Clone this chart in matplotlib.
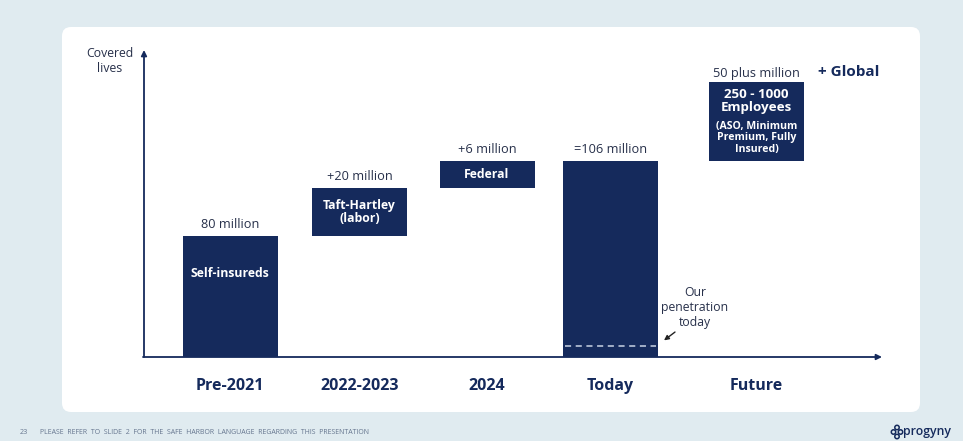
import numpy as np
import matplotlib
matplotlib.use("Agg")
import matplotlib.pyplot as plt
from matplotlib.patches import FancyBboxPatch, Circle

# ---- data (covered lives, millions) ----
categories = ["Pre-2021", "2022-2023", "2024", "Today", "Future"]
segment_start = [0, 80, 100, 0, 106]
segment_end = [80, 100, 106, 106, 156]
top_labels = ["80 million", "+20 million", "+6 million", "=106 million", "50 plus million"]
inner_labels = ["Self-insureds", "Taft-Hartley\n(labor)", "Federal", "", ""]
penetration_today = 7.5

NAVY = "#152a5c"
TEXT = "#27304a"
BG = "#e0ebf0"
FONT = "Open Sans"

W, H = 963, 441
fig = plt.figure(figsize=(W / 100, H / 100), dpi=100, facecolor=BG)

# slide background with the white card
bg = fig.add_axes([0, 0, 1, 1])
bg.set_xlim(0, W)
bg.set_ylim(H, 0)
bg.axis("off")
bg.add_patch(FancyBboxPatch((62, 27), 858, 385, boxstyle="round,pad=0,rounding_size=9",
                            fc="white", ec="none"))
bg.text(20, 432, "23", fontsize=5.2, color="#66768f", va="center", family=FONT)
bg.text(40, 432, "PLEASE  REFER  TO  SLIDE  2  FOR  THE  SAFE  HARBOR  LANGUAGE  REGARDING  THIS  PRESENTATION",
        fontsize=5.0, color="#66768f", va="center", family=FONT)
# logo mark and wordmark
for cx, cy in [(897, 427.5), (893.5, 432), (900.5, 432), (897, 436.5)]:
    bg.add_patch(Circle((cx, cy), 2.2, fc="none", ec=NAVY, lw=1.1))
bg.text(903, 431, "progyny", fontsize=8.8, color=NAVY, va="center", ha="left",
        family=FONT, fontweight="semibold")

# ---- chart axes: schematic (non-linear) vertical scale ----
X0, X1, YB, YT = 144, 882, 357, 50
ax = fig.add_axes([X0 / W, (H - YB) / H, (X1 - X0) / W, (YB - YT) / H])
ax.set_xlim(X0, X1)
ax.patch.set_alpha(0)

val_knots = np.array([0, 80, 100, 106, 156, 200], dtype=float)
pos_knots = np.array([0, 121, 169, 196, 275, 307], dtype=float)


def fwd(v):
    return np.interp(v, val_knots, pos_knots)


def inv(p):
    return np.interp(p, pos_knots, val_knots)


ax.set_yscale("function", functions=(fwd, inv))
ax.set_ylim(0, 200)
for s in ax.spines.values():
    s.set_visible(False)
ax.set_xticks([])
ax.set_yticks([])

slot_x = [230, 359.5, 487, 610.5, 756.5]
bar_w = 95

heights = [e - s for s, e in zip(segment_start, segment_end)]
ax.bar(slot_x, heights, bottom=segment_start, width=bar_w, color=NAVY, zorder=2)

# values above the bars
for x, top, lab in zip(slot_x, segment_end, top_labels):
    off = 1.5 if lab.startswith("50") else 3.5
    ax.annotate(lab, (x, top), xytext=(0, off), textcoords="offset points",
                ha="center", va="bottom", fontsize=9.2, color=TEXT, family=FONT)

# names inside the bars
ax.annotate(inner_labels[0], (slot_x[0], segment_end[0]), xytext=(0, -27),
            textcoords="offset points", ha="center", va="center", fontsize=8.8,
            color="white", fontweight="bold", family=FONT)
for i in (1, 2):
    mid = (segment_start[i] + segment_end[i]) / 2
    ax.text(slot_x[i], mid, inner_labels[i], ha="center", va="center", fontsize=8.8,
            color="white", fontweight="bold", family=FONT, linespacing=1.05)

fx, ftop = slot_x[4], segment_end[4]
ax.annotate("250 - 1000\nEmployees", (fx, ftop), xytext=(0, -4), textcoords="offset points",
            ha="center", va="top", fontsize=9.6, color="white", fontweight="bold",
            family=FONT, linespacing=1.0)
ax.annotate("(ASO, Minimum\nPremium, Fully\nInsured)", (fx, ftop), xytext=(0, -28),
            textcoords="offset points", ha="center", va="top", fontsize=7.6,
            color="white", fontweight="bold", family=FONT, linespacing=1.05)
ax.annotate("+ Global", (fx, ftop), xytext=(44, 2), textcoords="offset points",
            ha="left", va="bottom", fontsize=11, color=NAVY, fontweight="bold", family=FONT)

# penetration marker inside the Today bar
ax.plot([slot_x[3] - bar_w / 2 + 2, slot_x[3] + bar_w / 2 - 2],
        [penetration_today, penetration_today], ls=(0, (4, 3)), color="#c9d3e4",
        lw=1.1, zorder=3)
ax.text(slot_x[3] + bar_w / 2 + 37, 33, "Our\npenetration\ntoday", ha="center", va="center",
        fontsize=8.8, color=TEXT, family=FONT, linespacing=1.2)
ax.annotate("", xy=(slot_x[3] + bar_w / 2 + 6, penetration_today + 3.5),
            xytext=(slot_x[3] + bar_w / 2 + 17, 16.5),
            arrowprops=dict(arrowstyle="-|>", color="#222", lw=1.0,
                            shrinkA=0, shrinkB=0, mutation_scale=7))

# axes arrows
ax.annotate("", xy=(X0, 200), xytext=(X0, 0),
            arrowprops=dict(arrowstyle="-|>", color=NAVY, lw=1.3, shrinkA=0, shrinkB=0,
                            mutation_scale=8))
ax.annotate("", xy=(X1, 0), xytext=(X0 - 1, 0),
            arrowprops=dict(arrowstyle="-|>", color=NAVY, lw=1.3, shrinkA=0, shrinkB=0,
                            mutation_scale=8))
ax.annotate("Covered\nlives", (X0, 200), xytext=(-24.5, -8), textcoords="offset points",
            ha="center", va="center", fontsize=8.8, color=TEXT, family=FONT,
            linespacing=1.15, annotation_clip=False)

# category names under the axis
for x, c in zip(slot_x, categories):
    ax.annotate(c, (x, 0), xytext=(0, -21), textcoords="offset points", ha="center",
                va="center", fontsize=11.5, color=NAVY, fontweight="bold", family=FONT,
                annotation_clip=False)

fig.savefig("out.png", dpi=100, facecolor=BG)
